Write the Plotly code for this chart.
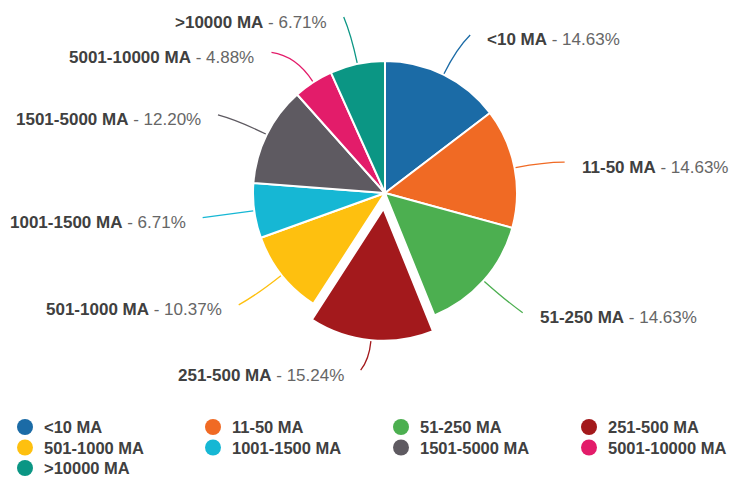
import math
import plotly.graph_objects as go

# Share of entries per size class (percent of total)
categories = ["<10 MA", "11-50 MA", "51-250 MA", "251-500 MA", "501-1000 MA",
              "1001-1500 MA", "1501-5000 MA", "5001-10000 MA", ">10000 MA"]
shares = [14.63, 14.63, 14.63, 15.24, 10.37, 6.71, 12.20, 4.88, 6.71]
highlighted = "251-500 MA"

colors = ["#1b6ba6", "#f06a24", "#4caf50", "#a3191c", "#fec00f",
          "#16b7d4", "#5e5a61", "#e31c6a", "#0b9684"]

# Canvas and pie geometry (pixels)
W, H = 731, 477
CX, CY, R = 385, 193, 132
PULL = 0.12
LINE_R = 183          # radius where leader lines end
# small per-label shifts of the connector end, to keep labels apart
label_nudge = [(4, 6), (0, 4), (1, -2), (-7, -5), (-3, -2),
               (-1, 0), (-3, 3), (-14, 13), (-3, 3)]
FONT = "Liberation Sans, Arial, sans-serif"
LABEL_SIZE = 17
LEGEND_SIZE = 16.5
NAME_COLOR = "#404040"
PCT_COLOR = "#666666"


def esc(s):
    return s.replace("<", "&lt;").replace(">", "&gt;")


pulls = [PULL if c == highlighted else 0 for c in categories]
half = R * (1 + max(pulls))
total = sum(shares)

fig = go.Figure()

fig.add_trace(go.Pie(
    labels=categories,
    values=shares,
    sort=False,
    direction="clockwise",
    rotation=0,
    pull=pulls,
    marker=dict(colors=colors, line=dict(color="white", width=2)),
    textinfo="none",
    hoverinfo="label+percent",
    showlegend=False,
    domain=dict(x=[(CX - half - 20) / W, (CX + half + 20) / W],
                y=[(H - CY - half) / H, (H - CY + half) / H]),
))

annotations = []
shapes = []
cum = 0.0
for i, (cat, val) in enumerate(zip(categories, shares)):
    mid = (cum + val / 2) / total * 2 * math.pi
    cum += val
    sx, sy = math.sin(mid), -math.cos(mid)
    r0 = R * (1 + pulls[i]) + 1
    x0, y0 = CX + r0 * sx, CY + r0 * sy
    ndx, ndy = label_nudge[i]
    x1, y1 = CX + LINE_R * sx + ndx, CY + LINE_R * sy + ndy
    # curved connector: leaves the slice radially, bends toward the label
    reach = 0.6 * math.hypot(x1 - x0, y1 - y0)
    qx, qy = x0 + reach * sx, y0 + reach * sy
    shapes.append(dict(
        type="path", xref="x", yref="y", layer="above",
        path=f"M {x0:.2f},{y0:.2f} Q {qx:.2f},{qy:.2f} {x1:.2f},{y1:.2f}",
        line=dict(color=colors[i], width=1.3),
    ))
    right = sx >= 0
    annotations.append(dict(
        x=x1 + (15 if right else -15), y=y1 + 5,
        xref="x", yref="y",
        xanchor="left" if right else "right", yanchor="middle",
        showarrow=False,
        text=f"<b>{esc(cat)}</b><span style='color:{PCT_COLOR}'> - {val:.2f}%</span>",
        font=dict(family=FONT, size=LABEL_SIZE, color=NAME_COLOR),
    ))

# Legend: four columns of round swatches with bold names
n_cols = 4
col_gap, row_gap = 188, 20.5
leg_x0, leg_y0 = 25, 427
leg_x = [leg_x0 + col_gap * (i % n_cols) for i in range(len(categories))]
leg_y = [leg_y0 + row_gap * (i // n_cols) for i in range(len(categories))]
fig.add_trace(go.Scatter(
    x=leg_x, y=leg_y, mode="markers",
    marker=dict(size=16, color=colors, line=dict(width=0)),
    hoverinfo="skip", showlegend=False,
))
for cat, lx, ly in zip(categories, leg_x, leg_y):
    annotations.append(dict(
        x=lx + 17, y=ly, xref="x", yref="y",
        xanchor="left", yanchor="middle", showarrow=False,
        text=f"<b>{esc(cat)}</b>",
        font=dict(family=FONT, size=LEGEND_SIZE, color=NAME_COLOR),
    ))

fig.update_layout(
    width=W, height=H,
    margin=dict(l=0, r=0, t=0, b=0),
    paper_bgcolor="white", plot_bgcolor="white",
    showlegend=False,
    xaxis=dict(range=[0, W], visible=False, fixedrange=True),
    yaxis=dict(range=[H, 0], visible=False, fixedrange=True),
    annotations=annotations,
    shapes=shapes,
)

fig.write_html("out.html")
